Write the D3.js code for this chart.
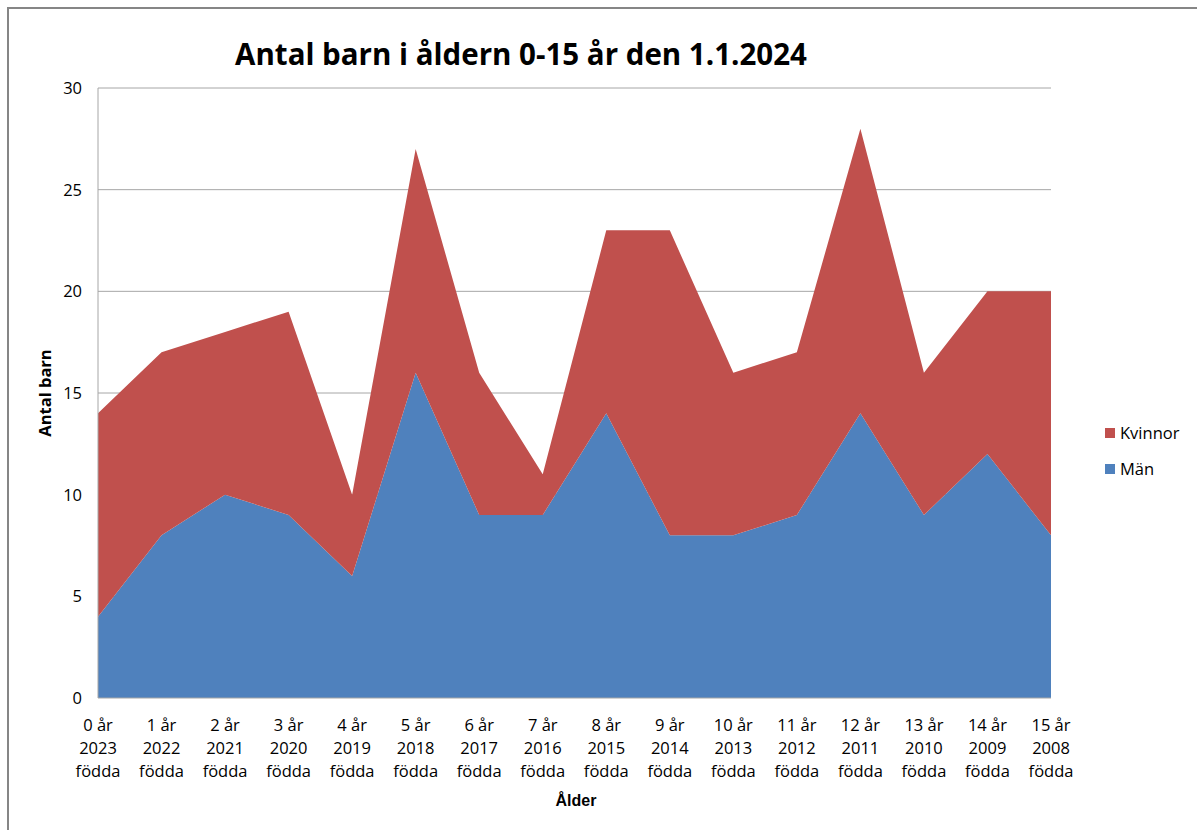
<!DOCTYPE html>
<html>
<head>
<meta charset="utf-8">
<script src="https://cdn.jsdelivr.net/npm/d3@7"></script>
<style>
  body { margin: 0; background: #fff; }
  svg text { font-family: "Open Sans", "Noto Sans", sans-serif; fill: #000; }
</style>
</head>
<body>
<div id="chart"></div>
<script>
// data
var ages = ["0 år","1 år","2 år","3 år","4 år","5 år","6 år","7 år","8 år","9 år","10 år","11 år","12 år","13 år","14 år","15 år"];
var years = ["2023","2022","2021","2020","2019","2018","2017","2016","2015","2014","2013","2012","2011","2010","2009","2008"];
var man = [4, 8, 10, 9, 6, 16, 9, 9, 14, 8, 8, 9, 14, 9, 12, 8];
var kvinnor = [10, 9, 8, 10, 4, 11, 7, 2, 9, 15, 8, 8, 14, 7, 8, 12];
var yTicks = [0, 5, 10, 15, 20, 25, 30];

var W = 1197, H = 830;
var margin = {top: 88, right: 146, bottom: 132, left: 98};
var width = W - margin.left - margin.right,
    height = H - margin.top - margin.bottom;

var svg = d3.select("#chart").append("svg")
    .attr("width", W)
    .attr("height", H);

// outer chart frame
svg.append("rect")
    .attr("x", 8).attr("y", 8)
    .attr("width", W).attr("height", H)
    .attr("fill", "none")
    .attr("stroke", "#868686")
    .attr("stroke-width", 2);

var g = svg.append("g")
    .attr("transform", "translate(" + margin.left + "," + margin.top + ")");

var x = d3.scalePoint().domain(d3.range(ages.length)).range([0, width]);
var y = d3.scaleLinear().domain([0, 30]).range([height, 0]);

var table = ages.map(function(a, i) { return {i: i, man: man[i], kvinnor: kvinnor[i]}; });
var stack = d3.stack().keys(["man", "kvinnor"]);
var layers = stack(table);
var colors = {man: "#4F81BD", kvinnor: "#C0504D"};

// gridlines
g.selectAll(".grid")
    .data(yTicks.slice(1))
    .enter().append("line")
    .attr("x1", 0).attr("x2", width)
    .attr("y1", function(d) { return y(d); })
    .attr("y2", function(d) { return y(d); })
    .attr("stroke", "#a6a6a6")
    .attr("stroke-width", 1);

var area = d3.area()
    .x(function(d) { return x(d.data.i); })
    .y0(function(d) { return y(d[0]); })
    .y1(function(d) { return y(d[1]); });

g.selectAll(".layer")
    .data(layers)
    .enter().append("path")
    .attr("d", area)
    .attr("fill", function(d) { return colors[d.key]; });

// axis lines
g.append("line")
    .attr("x1", 0).attr("x2", 0).attr("y1", 0).attr("y2", height)
    .attr("stroke", "#a6a6a6");
g.append("line")
    .attr("x1", 0).attr("x2", width).attr("y1", height).attr("y2", height)
    .attr("stroke", "#a6a6a6");

// y tick labels
g.selectAll(".ylab")
    .data(yTicks)
    .enter().append("text")
    .attr("x", -16)
    .attr("y", function(d) { return y(d) + 6; })
    .attr("text-anchor", "end")
    .style("font-size", "16.5px")
    .text(function(d) { return d; });

// x tick labels, three lines
var xl = g.selectAll(".xlab")
    .data(ages)
    .enter().append("text")
    .attr("text-anchor", "middle")
    .style("font-size", "16.5px");
xl.append("tspan").attr("x", function(d, i) { return x(i); }).attr("y", height + 33).text(function(d) { return d; });
xl.append("tspan").attr("x", function(d, i) { return x(i); }).attr("y", height + 56).text(function(d, i) { return years[i]; });
xl.append("tspan").attr("x", function(d, i) { return x(i); }).attr("y", height + 79).text("födda");

// titles
svg.append("text")
    .attr("x", 521).attr("y", 65)
    .attr("text-anchor", "middle")
    .style("font-size", "29.5px")
    .style("font-weight", "bold")
    .text("Antal barn i åldern 0-15 år den 1.1.2024");

svg.append("text")
    .attr("transform", "translate(51,393) rotate(-90)")
    .attr("text-anchor", "middle")
    .style("font-size", "16.5px")
    .style("font-weight", "bold")
    .text("Antal barn");

svg.append("text")
    .attr("x", 576).attr("y", 806)
    .attr("text-anchor", "middle")
    .style("font-family", "'Liberation Sans', Arial, sans-serif")
    .style("font-size", "16px")
    .style("font-weight", "bold")
    .text("Ålder");

// legend
var legendKeys = ["kvinnor", "man"];
var legendNames = {kvinnor: "Kvinnor", man: "Män"};
var lg = svg.selectAll(".legend")
    .data(legendKeys)
    .enter().append("g")
    .attr("transform", function(d, i) { return "translate(1105," + (428 + i * 36) + ")"; });
lg.append("rect")
    .attr("width", 10).attr("height", 10)
    .attr("fill", function(d) { return colors[d]; });
lg.append("text")
    .attr("x", 15).attr("y", 11)
    .style("font-size", "16.5px")
    .text(function(d) { return legendNames[d]; });
</script>
</body>
</html>
